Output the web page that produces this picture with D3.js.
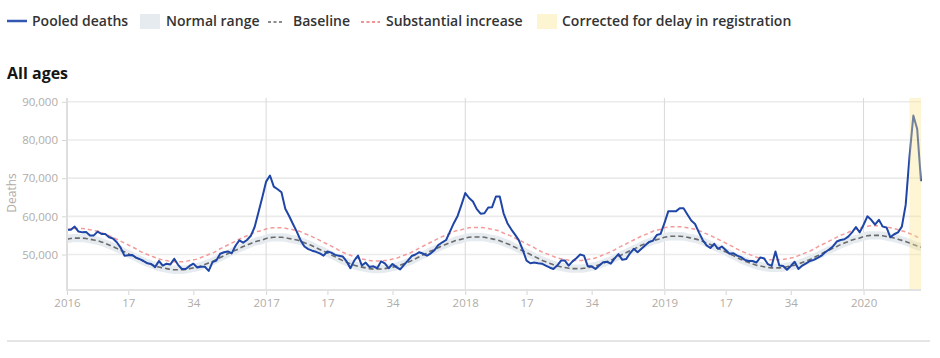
<!DOCTYPE html>
<html><head><meta charset="utf-8">
<script src="https://cdn.jsdelivr.net/npm/d3@7"></script>
<style>
body{margin:0;background:#fff;}
svg{display:block;font-family:"Open Sans",sans-serif;}
</style>
</head><body>
<svg id="chart" width="940" height="358"></svg>
<script>
// Weekly pooled deaths, 2016 week 1 .. 2020 week 16
const pooledDeaths = [
  56500,56500,57300,56000,55800,55900,55000,55000,56000,55400,55400,54500,54200,53200,51800,49700,49800,49900,49200,48800,48300,47700,47500,46700,48300,47100,47600,47400,48900,47300,46200,46200,47000,47600,46600,46800,46800,45700,48000,48400,50200,50600,50800,50300,52300,53700,53100,53800,54900,57200,61100,65000,
  69100,70700,67800,67100,66300,62000,60100,58000,56000,53700,52100,51400,51000,50700,50300,49700,50800,50500,49900,49700,49500,48200,46400,48400,49700,47100,47900,46700,46900,46400,48200,47700,46400,47500,46700,46100,47300,48400,49600,50000,50600,50200,49700,50300,51200,52500,53200,53800,56000,58200,60100,63000,
  66100,64800,63900,61900,60700,60800,62300,62400,65200,65200,60800,58200,56600,55200,53700,51200,48400,47700,47900,47700,47600,47100,46600,46200,47100,48400,48400,47100,48200,49000,50000,49700,46900,46900,46200,47100,48000,48100,47600,49000,50100,48600,48800,50300,51500,50600,51500,52400,53300,53600,55100,55400,
  58200,61300,61300,61300,62100,62100,60500,58900,58000,55800,53800,52400,51700,52800,51500,52100,51200,50200,50300,49700,49300,48600,48300,48300,47900,49200,49000,47500,47000,50800,47100,47000,46000,47000,48100,46200,47100,47700,48300,48600,49100,49700,50600,51300,52100,53400,53800,54000,54700,55800,57200,55800,
  57800,60000,59100,57800,59100,57300,57100,54500,55300,55800,57300,63000,75700,86400,82900,69200
];
const baseline = [
  54000,54200,54300,54300,54300,54200,54000,53800,53600,53300,52900,52500,52100,51600,51100,50700,50200,49700,49200,48700,48200,47800,47400,47000,46700,46500,46300,46100,46000,46000,46000,46100,46300,46500,46700,47000,47400,47800,48200,48700,49200,49700,50200,50700,51100,51600,52100,52500,52900,53300,53600,53800,
  54200,54400,54500,54500,54500,54400,54200,54000,53800,53500,53100,52700,52300,51800,51300,50900,50400,49900,49400,48900,48400,48000,47600,47200,46900,46700,46500,46300,46200,46200,46200,46300,46500,46700,46900,47200,47600,48000,48400,48900,49400,49900,50400,50900,51300,51800,52300,52700,53100,53500,53800,54000,
  54300,54500,54600,54600,54600,54500,54300,54100,53900,53600,53200,52800,52400,51900,51400,51000,50500,50000,49500,49000,48500,48100,47700,47300,47000,46800,46600,46400,46300,46300,46300,46400,46600,46800,47000,47300,47700,48100,48500,49000,49500,50000,50500,51000,51400,51900,52400,52800,53200,53600,53900,54100,
  54500,54700,54800,54800,54800,54700,54500,54300,54100,53800,53400,53000,52600,52100,51600,51200,50700,50200,49700,49200,48700,48300,47900,47500,47200,47000,46800,46600,46500,46500,46500,46600,46800,47000,47200,47500,47900,48300,48700,49200,49700,50200,50700,51200,51600,52100,52600,53000,53400,53800,54100,54300,
  54700,54900,55000,55000,55000,54900,54700,54500,54300,54000,53700,53400,53000,52600,52200,51900
];
const normalLow = [
  52900,53100,53200,53200,53200,53100,52900,52700,52500,52200,51800,51400,51000,50500,50000,49600,49100,48600,48100,47600,47100,46700,46300,45900,45600,45400,45200,45000,44900,44900,44900,45000,45200,45400,45600,45900,46300,46700,47100,47600,48100,48600,49100,49600,50000,50500,51000,51400,51800,52200,52500,52700,
  53100,53300,53400,53400,53400,53300,53100,52900,52700,52400,52000,51600,51200,50700,50200,49800,49300,48800,48300,47800,47300,46900,46500,46100,45800,45600,45400,45200,45100,45100,45100,45200,45400,45600,45800,46100,46500,46900,47300,47800,48300,48800,49300,49800,50200,50700,51200,51600,52000,52400,52700,52900,
  53200,53400,53500,53500,53500,53400,53200,53000,52800,52500,52100,51700,51300,50800,50300,49900,49400,48900,48400,47900,47400,47000,46600,46200,45900,45700,45500,45300,45200,45200,45200,45300,45500,45700,45900,46200,46600,47000,47400,47900,48400,48900,49400,49900,50300,50800,51300,51700,52100,52500,52800,53000,
  53400,53600,53700,53700,53700,53600,53400,53200,53000,52700,52300,51900,51500,51000,50500,50100,49600,49100,48600,48100,47600,47200,46800,46400,46100,45900,45700,45500,45400,45400,45400,45500,45700,45900,46100,46400,46800,47200,47600,48100,48600,49100,49600,50100,50500,51000,51500,51900,52300,52700,53000,53200,
  53600,53800,53900,53900,53900,53800,53600,53400,53200,52900,52600,52300,51900,51500,51100,50800
];
const normalHigh = [
  55100,55300,55400,55400,55400,55300,55100,54900,54700,54400,54000,53600,53200,52700,52200,51800,51300,50800,50300,49800,49300,48900,48500,48100,47800,47600,47400,47200,47100,47100,47100,47200,47400,47600,47800,48100,48500,48900,49300,49800,50300,50800,51300,51800,52200,52700,53200,53600,54000,54400,54700,54900,
  55300,55500,55600,55600,55600,55500,55300,55100,54900,54600,54200,53800,53400,52900,52400,52000,51500,51000,50500,50000,49500,49100,48700,48300,48000,47800,47600,47400,47300,47300,47300,47400,47600,47800,48000,48300,48700,49100,49500,50000,50500,51000,51500,52000,52400,52900,53400,53800,54200,54600,54900,55100,
  55400,55600,55700,55700,55700,55600,55400,55200,55000,54700,54300,53900,53500,53000,52500,52100,51600,51100,50600,50100,49600,49200,48800,48400,48100,47900,47700,47500,47400,47400,47400,47500,47700,47900,48100,48400,48800,49200,49600,50100,50600,51100,51600,52100,52500,53000,53500,53900,54300,54700,55000,55200,
  55600,55800,55900,55900,55900,55800,55600,55400,55200,54900,54500,54100,53700,53200,52700,52300,51800,51300,50800,50300,49800,49400,49000,48600,48300,48100,47900,47700,47600,47600,47600,47700,47900,48100,48300,48600,49000,49400,49800,50300,50800,51300,51800,52300,52700,53200,53700,54100,54500,54900,55200,55400,
  55800,56000,56100,56100,56100,56000,55800,55600,55400,55100,54800,54500,54100,53700,53300,53000
];
const substantialIncrease = [
  56500,56700,56800,56800,56800,56700,56500,56300,56100,55800,55300,54900,54500,54000,53500,53000,52500,52000,51500,50900,50400,50000,49600,49200,48800,48600,48400,48200,48100,48100,48100,48200,48400,48600,48800,49200,49600,50000,50400,50900,51500,52000,52500,53000,53500,54000,54500,54900,55300,55800,56100,56300,
  56700,56900,57000,57000,57000,56900,56700,56500,56300,56000,55500,55100,54700,54200,53700,53200,52700,52200,51700,51100,50600,50200,49800,49400,49000,48800,48600,48400,48300,48300,48300,48400,48600,48800,49000,49400,49800,50200,50600,51100,51700,52200,52700,53200,53700,54200,54700,55100,55500,56000,56300,56500,
  56800,57000,57100,57100,57100,57000,56800,56600,56400,56100,55600,55200,54800,54300,53800,53300,52800,52300,51800,51200,50700,50300,49900,49500,49100,48900,48700,48500,48400,48400,48400,48500,48700,48900,49100,49500,49900,50300,50700,51200,51800,52300,52800,53300,53800,54300,54800,55200,55600,56100,56400,56600,
  57000,57200,57300,57300,57300,57200,57000,56800,56600,56300,55800,55400,55000,54500,54000,53500,53000,52500,52000,51400,50900,50500,50100,49700,49300,49100,48900,48700,48600,48600,48600,48700,48900,49100,49300,49700,50100,50500,50900,51400,52000,52500,53000,53500,54000,54500,55000,55400,55800,56300,56600,56800,
  57200,57400,57500,57500,57500,57400,57200,57000,56800,56500,56200,55900,55500,55100,54600,54300
];
const xTickWeeks  = [0,16,33,52,68,85,104,120,137,156,172,189,208];
const xTickLabels = ["2016","17","34","2017","17","34","2018","17","34","2019","17","34","2020"];
const yearStartWeeks = [52,104,156,208];
const yTicks = [50000,60000,70000,80000,90000];
const correctedWeeks = [220,223];
const legendItems = ["Pooled deaths","Normal range","Baseline","Substantial increase","Corrected for delay in registration"];

(function () {
const svg = d3.select("#chart");
const pl = 67, pr = 921, pt = 98, pb = 290;
const x = d3.scaleLinear().domain([0, pooledDeaths.length - 1]).range([pl, pr]);
const y = d3.scaleLinear().domain([40700, 91000]).range([pb, pt]);
const idx = d3.range(pooledDeaths.length);
const labelColor = "#b1aca8";

// gridlines
svg.append("g").selectAll("line").data(yTicks).join("line")
  .attr("x1", pl).attr("x2", pr)
  .attr("y1", d => y(d)).attr("y2", d => y(d))
  .attr("stroke", "#ebebeb").attr("stroke-width", 1.6);
svg.append("g").selectAll("line").data(yearStartWeeks).join("line")
  .attr("x1", d => x(d)).attr("x2", d => x(d))
  .attr("y1", pt).attr("y2", pb)
  .attr("stroke", "#d9d9d9").attr("stroke-width", 1);

// normal range
svg.append("path").datum(idx)
  .attr("d", d3.area().x(i => x(i)).y0(i => y(normalLow[i])).y1(i => y(normalHigh[i])).curve(d3.curveMonotoneX))
  .attr("fill", "#e6ebf0");
// baseline
svg.append("path").datum(idx)
  .attr("d", d3.line().x(i => x(i)).y(i => y(baseline[i])).curve(d3.curveMonotoneX))
  .attr("fill", "none").attr("stroke", "#6b6b6b").attr("stroke-width", 1.6).attr("stroke-dasharray", "5,3");
// substantial increase
svg.append("path").datum(idx)
  .attr("d", d3.line().x(i => x(i)).y(i => y(substantialIncrease[i])).curve(d3.curveMonotoneX))
  .attr("fill", "none").attr("stroke", "#f39a9a").attr("stroke-width", 1.5).attr("stroke-dasharray", "4,3");
// pooled deaths
svg.append("path").datum(idx)
  .attr("d", d3.line().x(i => x(i)).y(i => y(pooledDeaths[i])))
  .attr("fill", "none").attr("stroke", "#1f46a6").attr("stroke-width", 2).attr("stroke-linejoin", "round");
// corrected band
svg.append("rect")
  .attr("x", x(correctedWeeks[0])).attr("y", pt)
  .attr("width", x(correctedWeeks[1]) - x(correctedWeeks[0])).attr("height", pb - pt)
  .attr("fill", "#fbe68c").attr("opacity", 0.38);

// axes
const yAxis = svg.append("g").attr("transform", `translate(${pl},0)`)
  .call(d3.axisLeft(y).tickValues(yTicks).tickSize(5).tickPadding(4).tickFormat(d3.format(",")));
yAxis.select(".domain").remove();
svg.append("line").attr("x1", pl).attr("x2", pl).attr("y1", pt).attr("y2", pb + 1)
  .attr("stroke", "#dedede").attr("stroke-width", 2);
const xAxis = svg.append("g").attr("transform", `translate(0,${pb})`)
  .call(d3.axisBottom(x).tickValues(xTickWeeks).tickSize(5).tickPadding(4).tickFormat((d, i) => xTickLabels[i]));
xAxis.select(".domain").remove();
svg.append("line").attr("x1", pl).attr("x2", pr).attr("y1", pb).attr("y2", pb)
  .attr("stroke", "#e2e2e2").attr("stroke-width", 2);
[yAxis, xAxis].forEach(a => {
  a.selectAll(".tick line").attr("stroke", "#d6d6d6");
  a.selectAll(".tick text").attr("fill", labelColor).style("font-size", "11.5px").style("font-family", "Open Sans, sans-serif");
});

svg.append("text").attr("transform", "translate(13,193) rotate(-90)")
  .attr("text-anchor", "middle").attr("dominant-baseline", "middle")
  .attr("fill", labelColor).style("font-size", "12px").text("Deaths");

// title
svg.append("text").attr("x", 7).attr("y", 79).attr("fill", "#151515")
  .style("font-size", "16px").style("font-weight", 700).text("All ages");

// legend
const lg = svg.append("g");
const ly = 21;
lg.append("line").attr("x1", 7).attr("x2", 27).attr("y1", ly).attr("y2", ly).attr("stroke", "#3557b4").attr("stroke-width", 2.5);
lg.append("rect").attr("x", 140).attr("y", 14).attr("width", 20).attr("height", 15).attr("fill", "#e6ebf0");
lg.append("line").attr("x1", 268).attr("x2", 284).attr("y1", ly + 1).attr("y2", ly + 1).attr("stroke", "#666").attr("stroke-width", 1.5).attr("stroke-dasharray", "3,2.5");
lg.append("line").attr("x1", 361).attr("x2", 380).attr("y1", ly + 1).attr("y2", ly + 1).attr("stroke", "#f07070").attr("stroke-width", 1.5).attr("stroke-dasharray", "3,2.5");
lg.append("rect").attr("x", 537).attr("y", 14).attr("width", 20).attr("height", 15).attr("fill", "#fdf5d2");
const lx = [32, 166, 293, 386, 562];
lg.selectAll("text").data(legendItems).join("text")
  .attr("x", (d, i) => lx[i]).attr("y", 26)
  .attr("fill", "#333").style("font-size", "14px").style("font-weight", 600).text(d => d);

// bottom rule
svg.append("line").attr("x1", 7).attr("x2", 930).attr("y1", 341).attr("y2", 341).attr("stroke", "#dddddd").attr("stroke-width", 1.5);
})();
</script>
</body></html>
